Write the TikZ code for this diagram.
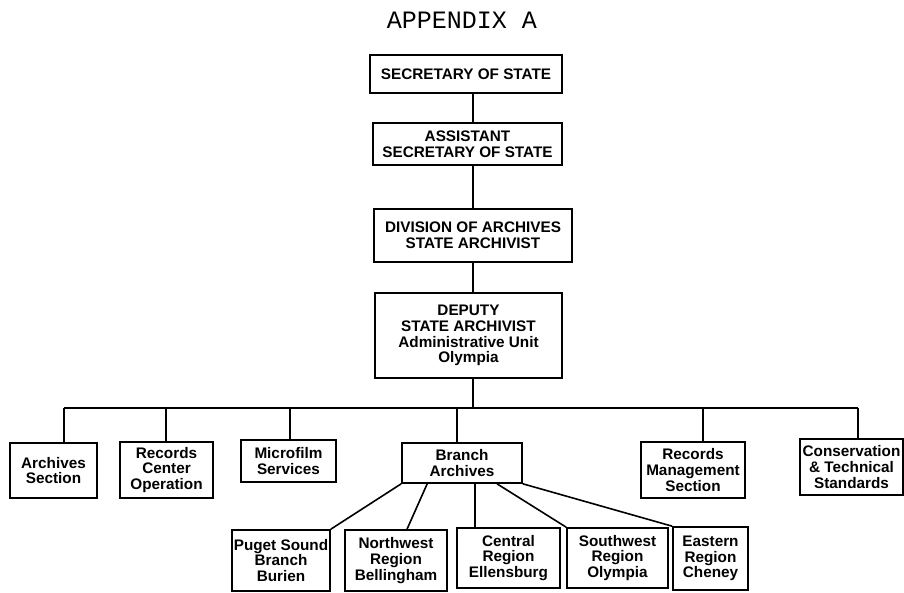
\documentclass[tikz,border=0pt]{standalone}
\usepackage{fontspec}
\setmainfont{Liberation Sans}
\setmonofont{Liberation Mono}

\begin{document}
\begin{tikzpicture}[
    x=1pt,y=-1pt,
    font=\bfseries\fontsize{15.3}{15.8}\selectfont,
    line width=1.6pt,
    office/.style 2 args={
      draw=black,
      fill=white,
      align=center,
      inner sep=0pt,
      minimum width=#1,
      minimum height=#2
    },
    heading/.style={
      font=\ttfamily\mdseries\fontsize{25}{25}\selectfont
    }
  ]
  \useasboundingbox (0,0) rectangle (904,593);

  % Title
  \node[heading] (title) at (462,20) {APPENDIX A};

  % Chain of command
  \node[office={192}{38}] (sec) at (466,74) {SECRETARY OF STATE};
  \node[office={189}{42}] (asst) at (467.5,144) {ASSISTANT\\SECRETARY OF STATE};
  \node[office={198}{53}] (div) at (473,235.5) {DIVISION OF ARCHIVES\\STATE ARCHIVIST};
  \node[office={187}{85}] (dep) at (468.5,335.5) {DEPUTY\\STATE ARCHIVIST\\Administrative Unit\\Olympia};

  \coordinate (busL) at (64,408);
  \coordinate (busR) at (858,408);
  \coordinate (spine) at (473,408);

  \draw (sec.south -| spine) -- (asst.north -| spine);
  \draw (asst.south -| spine) -- (div.north -| spine);
  \draw (div.south -| spine) -- (dep.north -| spine);
  \draw (dep.south -| spine) -- (spine);

  % Sections
  \node[office={87}{55}] (arch) at (53.5,470.5) {Archives\\Section};
  \node[office={93}{56}] (rco) at (166.5,470) {Records\\Center\\Operation};
  \node[office={95}{42}] (micro) at (288.5,461) {Microfilm\\Services};
  \node[office={120}{40}] (branch) at (462,463) {Branch\\Archives};
  \node[office={104}{56}] (rms) at (693,470) {Records\\Management\\Section};
  \node[office={103}{56}] (cons) at (851.5,467) {Conservation\\\& Technical\\Standards};

  \draw (busL) -- (busR);
  \foreach \n/\s in {arch/10.5, rco/-0.5, micro/1.5, branch/-5, rms/10, cons/6.5}
    \draw ([xshift=\s pt]\n.north) -- ([xshift=\s pt]\n.north |- busL);

  % Branch offices
  \node[office={98}{61}] (puget) at (281,560.5) {Puget Sound\\Branch\\Burien};
  \node[office={102}{61}] (nw) at (396,560.5) {Northwest\\Region\\Bellingham};
  \node[office={103}{60}] (central) at (508.5,558) {Central\\Region\\Ellensburg};
  \node[office={101}{60}] (sw) at (617.5,558) {Southwest\\Region\\Olympia};
  \node[office={75}{63}] (east) at (710.5,558.5) {Eastern\\Region\\Cheney};

  \draw (branch.south west) -- (puget.north east);
  \draw ([xshift=26pt]branch.south west) -- ([xshift=11pt]nw.north);
  \draw ([xshift=13pt]branch.south) -- ([xshift=13pt]branch.south |- central.north);
  \draw ([xshift=35pt]branch.south) -- (sw.north west);
  \draw (branch.south east) -- (east.north west);
\end{tikzpicture}
\end{document}
